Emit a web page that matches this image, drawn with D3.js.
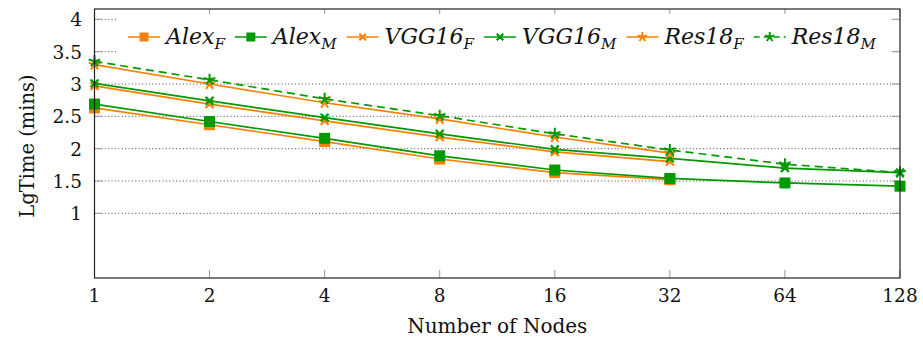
<!DOCTYPE html>
<html>
<head>
<meta charset="utf-8">
<script src="https://cdn.jsdelivr.net/npm/d3@7"></script>
<style>
  body { margin: 0; background: #fff; }
</style>
</head>
<body>
<svg id="chart" width="923" height="342" font-family="'DejaVu Serif', 'Liberation Serif', serif"></svg>
<script>
// data
const nodes = [1, 2, 4, 8, 16, 32, 64, 128];
const yTicks = [1, 1.5, 2, 2.5, 3, 3.5, 4];
const yTickLabels = ["1", "1.5", "2", "2.5", "3", "3.5", "4"];

const alexF = [2.63, 2.37, 2.11, 1.84, 1.63, 1.52];
const alexM = [2.69, 2.42, 2.16, 1.89, 1.67, 1.54, 1.47, 1.42];
const vggF  = [2.97, 2.69, 2.43, 2.18, 1.95, 1.80];
const vggM  = [3.01, 2.74, 2.48, 2.23, 1.99, 1.85, 1.70, 1.63];
const resF  = [3.30, 3.00, 2.71, 2.46, 2.18, 1.93];
const resM  = [3.35, 3.065, 2.77, 2.51, 2.23, 1.98, 1.76, 1.63];

const orange = "#ff8000";
const green = "#009900";

const series = [
  { name: "Alex", sub: "F", values: alexF, color: orange, marker: "square", dash: null },
  { name: "Alex", sub: "M", values: alexM, color: green, marker: "square", dash: null },
  { name: "VGG16", sub: "F", values: vggF, color: orange, marker: "x", dash: null },
  { name: "VGG16", sub: "M", values: vggM, color: green, marker: "x", dash: null },
  { name: "Res18", sub: "F", values: resF, color: orange, marker: "star", dash: null },
  { name: "Res18", sub: "M", values: resM, color: green, marker: "star", dash: "8,5" }
];

const plotL = 94.5, plotR = 900, plotT = 9, plotB = 278;

const svg = d3.select("#chart");

const x = d3.scaleLog().base(2).domain([1, 128]).range([plotL, plotR]);
const y = d3.scaleLinear().domain([0, 4.16]).range([plotB, plotT]);

// grid lines (dotted)
svg.append("g")
  .selectAll("line")
  .data(yTicks)
  .enter()
  .append("line")
  .attr("x1", plotL)
  .attr("x2", plotR)
  .attr("y1", d => y(d))
  .attr("y2", d => y(d))
  .attr("stroke", "#444")
  .attr("stroke-width", 1)
  .attr("stroke-dasharray", "1,2.4");

// inward ticks, all four sides
const tickLen = 8;
const ticks = svg.append("g").attr("stroke", "#999").attr("stroke-width", 1);
ticks.selectAll(".xb").data(nodes).enter().append("line")
  .attr("x1", d => x(d)).attr("x2", d => x(d))
  .attr("y1", plotB).attr("y2", plotB - tickLen);
ticks.selectAll(".xt").data(nodes).enter().append("line")
  .attr("x1", d => x(d)).attr("x2", d => x(d))
  .attr("y1", plotT).attr("y2", plotT + tickLen);
ticks.selectAll(".yl").data(yTicks).enter().append("line")
  .attr("x1", plotL).attr("x2", plotL + tickLen)
  .attr("y1", d => y(d)).attr("y2", d => y(d));
ticks.selectAll(".yr").data(yTicks).enter().append("line")
  .attr("x1", plotR).attr("x2", plotR - tickLen)
  .attr("y1", d => y(d)).attr("y2", d => y(d));

// tick labels
svg.append("g")
  .selectAll("text")
  .data(nodes)
  .enter()
  .append("text")
  .attr("x", d => x(d))
  .attr("y", plotB + 24)
  .attr("text-anchor", "middle")
  .attr("font-size", 18.5)
  .attr("fill", "#111")
  .text(d => d);

svg.append("g")
  .selectAll("text")
  .data(yTicks)
  .enter()
  .append("text")
  .attr("x", 82)
  .attr("y", d => y(d) + 7)
  .attr("text-anchor", "end")
  .attr("font-size", 18.5)
  .attr("fill", "#111")
  .text((d, i) => yTickLabels[i]);

// axis titles
svg.append("text")
  .attr("x", (plotL + plotR) / 2)
  .attr("y", 333)
  .attr("text-anchor", "middle")
  .attr("font-size", 20)
  .attr("fill", "#111")
  .text("Number of Nodes");

svg.append("text")
  .attr("transform", "translate(34," + 146 + ") rotate(-90)")
  .attr("text-anchor", "middle")
  .attr("font-size", 19.5)
  .attr("fill", "#111")
  .text("LgTime (mins)");

// marker drawing
function drawMarker(g, type, color, cx, cy, size) {
  if (type === "square") {
    g.append("rect")
      .attr("x", cx - size / 2).attr("y", cy - size / 2)
      .attr("width", size).attr("height", size)
      .attr("fill", color);
  } else if (type === "x") {
    const r = size * 0.36;
    g.append("path")
      .attr("d", `M${cx - r},${cy - r}L${cx + r},${cy + r}M${cx - r},${cy + r}L${cx + r},${cy - r}`)
      .attr("stroke", color).attr("stroke-width", 2.2).attr("fill", "none");
  } else {
    const r = size * 0.55;
    let d = "";
    for (let k = 0; k < 5; k++) {
      const a = -Math.PI / 2 + k * 2 * Math.PI / 5;
      d += `M${cx},${cy}L${cx + r * Math.cos(a)},${cy + r * Math.sin(a)}`;
    }
    g.append("path")
      .attr("d", d)
      .attr("stroke", color).attr("stroke-width", 2).attr("fill", "none");
  }
}

const line = d3.line()
  .x((d, i) => x(nodes[i]))
  .y(d => y(d));

series.forEach(s => {
  const g = svg.append("g");
  g.append("path")
    .datum(s.values)
    .attr("d", line)
    .attr("fill", "none")
    .attr("stroke", s.color)
    .attr("stroke-width", 1.7)
    .attr("stroke-dasharray", s.dash);
  s.values.forEach((v, i) => drawMarker(g, s.marker, s.color, x(nodes[i]), y(v), 11));
});

// legend
const legend = svg.append("g");
const legendBg = legend.append("rect")
  .attr("fill", "#fff");
const items = [];
series.forEach(s => {
  const it = legend.append("g");
  it.append("line")
    .attr("x1", 0).attr("x2", 32)
    .attr("y1", 0).attr("y2", 0)
    .attr("stroke", s.color).attr("stroke-width", 1.7)
    .attr("stroke-dasharray", s.dash ? "6,4" : null);
  drawMarker(it, s.marker, s.color, 16, 0, 9);
  const t = it.append("text")
    .attr("x", 38).attr("y", 7)
    .attr("font-size", 22)
    .attr("font-style", "italic")
    .attr("fill", "#111");
  t.append("tspan").text(s.name);
  t.append("tspan")
    .attr("dy", 5)
    .attr("font-size", 15)
    .text(s.sub);
  const w = 38 + t.node().getComputedTextLength();
  items.push({ g: it, w: w });
});
const gap = 10;
const totalW = d3.sum(items, d => d.w) + gap * (items.length - 1);
let cx = 502 - totalW / 2;
items.forEach(d => {
  d.g.attr("transform", `translate(${cx},37)`);
  cx += d.w + gap;
});
legendBg
  .attr("x", 118).attr("y", 14)
  .attr("width", 773).attr("height", 50);

// frame
svg.append("rect")
  .attr("x", plotL).attr("y", plotT)
  .attr("width", plotR - plotL).attr("height", plotB - plotT)
  .attr("fill", "none")
  .attr("stroke", "#222")
  .attr("stroke-width", 1.2);
</script>
</body>
</html>
